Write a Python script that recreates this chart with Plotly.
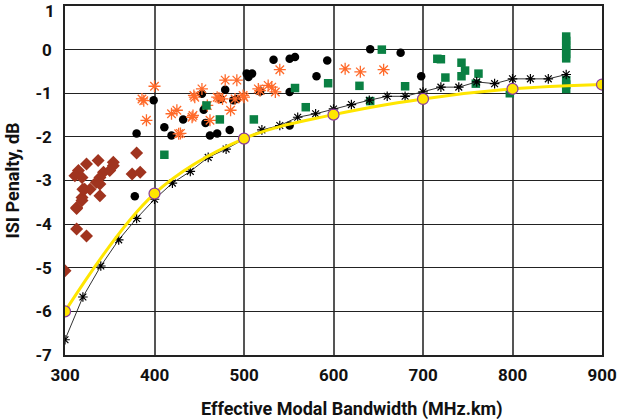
import plotly.graph_objects as go

# Brown diamonds
brown_x = [380, 324, 337, 354, 315, 311, 319, 343, 350, 354, 339, 375, 384, 335, 322, 339, 319, 319, 313, 313, 324, 300, 339, 328, 320, 313]
brown_y = [-2.37, -2.62, -2.54, -2.58, -2.77, -2.89, -2.93, -2.81, -2.77, -2.66, -2.93, -2.85, -2.81, -3.04, -3.2, -3.35, -3.39, -3.46, -3.64, -4.11, -4.27, -5.07, -3.08, -3.2, -3.2, -3.62]

# Black dots
black_x = [380, 399, 411, 419, 432, 455, 457, 453, 462, 470, 474, 479, 484, 488, 503, 518, 533, 551, 557, 551, 551, 378, 492, 505, 509, 593, 581, 641, 675, 698]
black_y = [-1.92, -1.16, -1.78, -1.97, -1.6, -1.38, -1.68, -1.01, -1.97, -1.92, -1.13, -0.92, -1.84, -1.16, -0.55, -0.96, -0.23, -0.21, -0.17, -0.97, -1.74, -3.36, -1.13, -0.63, -0.55, -0.25, -0.61, 0.01, -0.07, -0.61]

# Orange asterisks
orange_x = [400, 386, 391, 419, 425, 429, 443, 445, 453, 462, 470, 476, 479, 485, 492, 490, 500, 516, 531, 535, 540, 459, 613, 630, 656, 388, 442, 427, 444, 472, 499, 518, 527]
orange_y = [-0.84, -1.13, -1.62, -1.47, -1.39, -1.92, -1.51, -1.09, -0.9, -1.62, -1.09, -1.13, -0.7, -1.39, -0.7, -1.13, -1.09, -0.9, -0.86, -0.97, -0.46, -1.28, -0.44, -0.51, -0.46, -1.17, -1.55, -1.93, -1.05, -1.11, -1.05, -0.94, -0.82]

# Green squares
green_x = [411, 458, 473, 511, 557, 569, 594, 629, 654, 680, 716, 720, 725, 743, 747, 743, 762, 759, 641, 797,
           860, 860, 860, 860, 860, 860, 860, 860, 860]
green_y = [-2.41, -1.28, -1.6, -1.6, -0.88, -1.32, -0.77, -0.83, 0.0, -0.84, -0.21, -0.22, -0.64, -0.3, -0.48, -0.61, -0.55, -0.78, -1.18, -1.0,
           0.3, 0.2, 0.1, 0.0, -0.1, -0.2, -0.7, -0.8, -0.9]

# Black asterisk curve
curve_x = [300, 320, 340, 360, 380, 400, 420, 440, 460, 480, 500, 520, 540, 560, 580, 600, 620, 640, 660, 680, 700, 720, 740, 760, 780, 800, 820, 840, 860]
curve_y = [-6.65, -5.67, -4.96, -4.36, -3.87, -3.43, -3.06, -2.79, -2.47, -2.28, -2.05, -1.84, -1.74, -1.55, -1.47, -1.36, -1.26, -1.16, -1.07, -1.07, -0.97, -0.86, -0.86, -0.74, -0.78, -0.67, -0.67, -0.67, -0.57]

# Yellow model curve
model_x = [300, 400, 500, 600, 700, 800, 900]
model_y = [-6.0, -3.3, -2.04, -1.49, -1.13, -0.9, -0.8]

x_ticks = [300, 400, 500, 600, 700, 800, 900]
y_ticks = [-7, -6, -5, -4, -3, -2, -1, 0, 1]
y_top_label = "1"

FONT = "Roboto, Lato, sans-serif"

fig = go.Figure()
fig.add_trace(go.Scatter(x=brown_x, y=brown_y, mode="markers",
                         marker=dict(symbol="diamond", size=10, color="#a0341f")))
fig.add_trace(go.Scatter(x=black_x, y=black_y, mode="markers",
                         marker=dict(symbol="circle", size=8.5, color="#000000")))
fig.add_trace(go.Scatter(x=orange_x, y=orange_y, mode="markers",
                         marker=dict(symbol="asterisk-open", size=10, color="#ff6a2a",
                                     line=dict(color="#ff6a2a", width=1.3))))
fig.add_trace(go.Scatter(x=green_x, y=green_y, mode="markers",
                         marker=dict(symbol="square", size=8.5, color="#0a8043")))
fig.add_trace(go.Scatter(x=curve_x, y=curve_y, mode="lines+markers",
                         line=dict(color="#333333", width=1),
                         marker=dict(symbol="asterisk-open", size=8, color="#000000",
                                     line=dict(color="#000000", width=1.2))))
fig.add_trace(go.Scatter(x=model_x, y=model_y, mode="lines+markers",
                         line=dict(color="#ffe600", width=3, shape="spline", smoothing=1.0),
                         marker=dict(symbol="circle", size=11, color="#ffe600",
                                     line=dict(color="#8a3d9c", width=1.2))))

fig.update_layout(
    width=618, height=419,
    margin=dict(l=65, r=16, t=6, b=64),
    paper_bgcolor="white", plot_bgcolor="white",
    showlegend=False,
    font=dict(family=FONT, size=18, color="#111111"),
    annotations=[
        dict(text="<b>Effective Modal Bandwidth (MHz.km)</b>",
             xref="paper", yref="paper", x=0.533, y=-0.155,
             xanchor="center", yanchor="middle", showarrow=False,
             font=dict(family=FONT, size=18, color="#111111")),
        dict(text="<b>" + y_top_label + "</b>",
             xref="paper", yref="y", x=0, y=y_ticks[-1], xshift=-8, yshift=-5,
             xanchor="right", yanchor="middle", showarrow=False,
             font=dict(family=FONT, size=17, color="#111111")),
    ],
)
fig.update_xaxes(
    range=[300, 900], tickvals=x_ticks, ticktext=[str(v) for v in x_ticks],
    showgrid=True, gridcolor="#555555", gridwidth=2,
    showline=True, linecolor="#222222", linewidth=1.5, mirror=True,
    zeroline=False, ticks="", ticklen=0, automargin=False,
    ticklabeloverflow="allow", ticklabelstandoff=4,
    tickfont=dict(family=FONT, size=17, weight="bold"),
)
fig.update_yaxes(
    range=[-7, 1], tickvals=y_ticks,
    ticktext=[str(v) for v in y_ticks[:-1]] + [""],
    showgrid=True, gridcolor="#222222", gridwidth=1.2,
    showline=True, linecolor="#222222", linewidth=1.5, mirror=True,
    zeroline=False, ticks="", ticklen=0, automargin=False,
    ticklabeloverflow="allow", ticklabelstandoff=8,
    tickfont=dict(family=FONT, size=17, weight="bold"),
    title=dict(text="<b>ISI Penalty, dB</b>", font=dict(family=FONT, size=18), standoff=11),
)

fig.write_html("out.html", config={"displayModeBar": False},
               post_script="document.body.style.margin='0';")
